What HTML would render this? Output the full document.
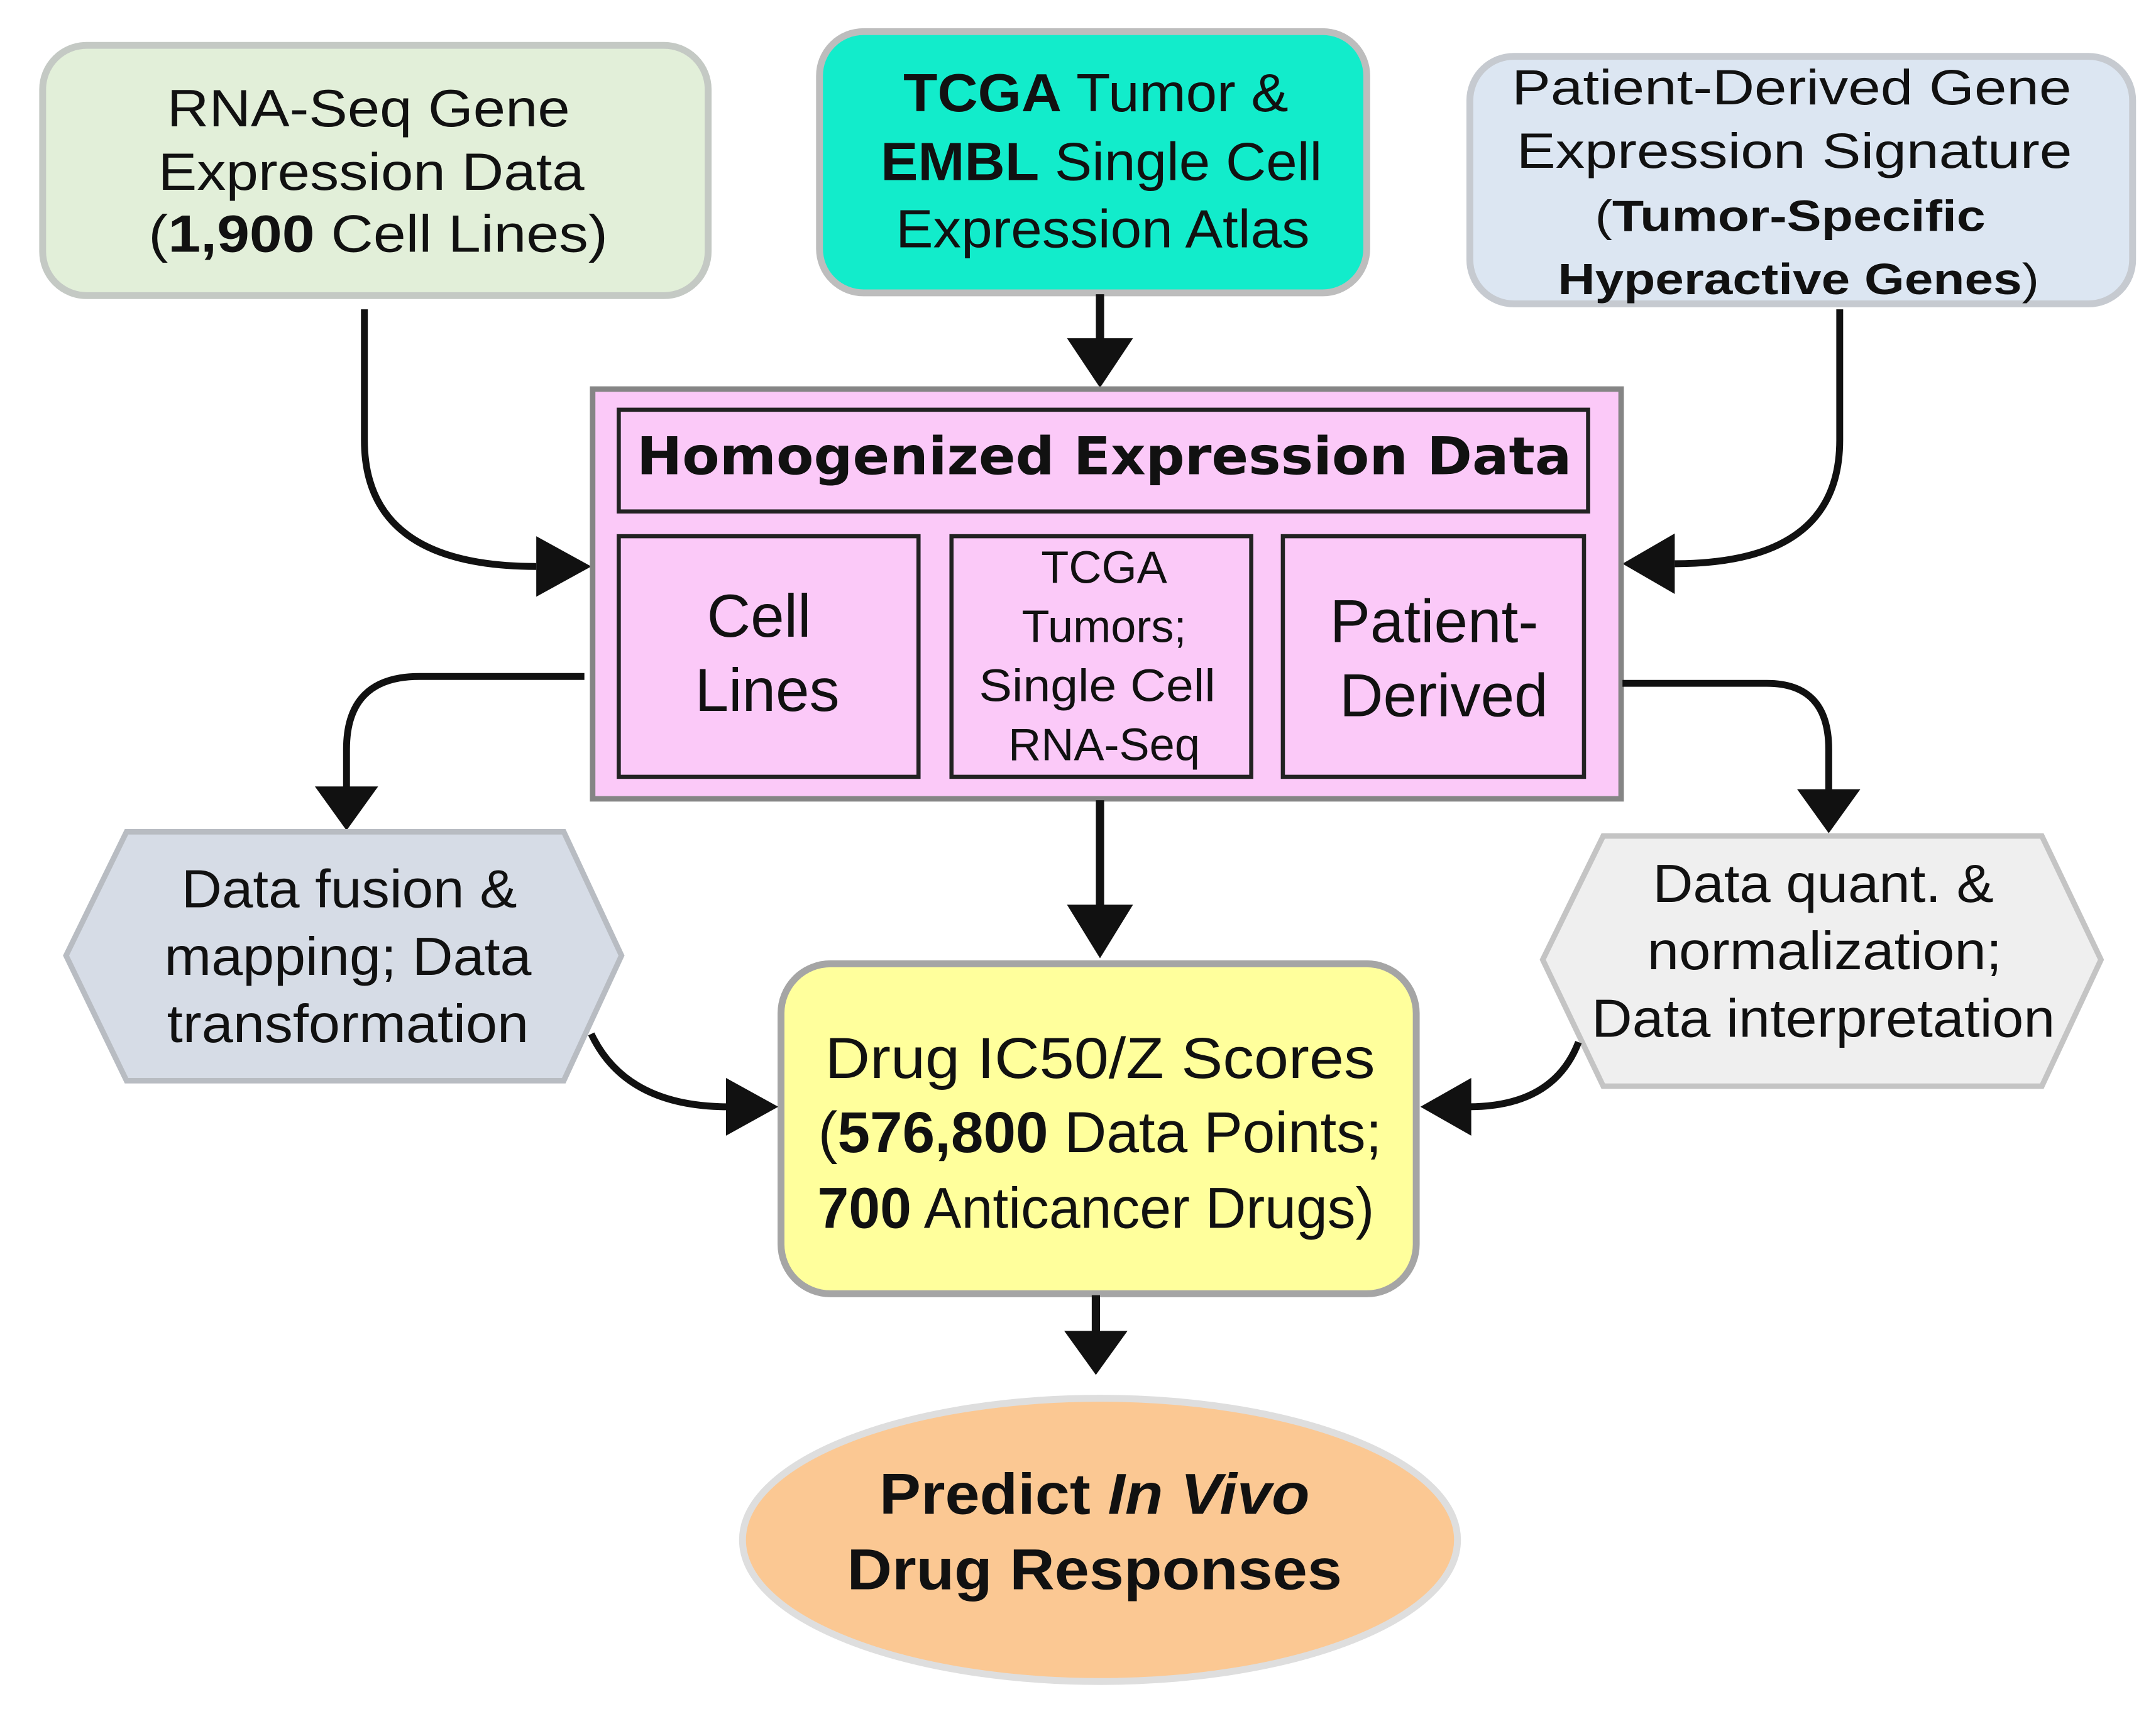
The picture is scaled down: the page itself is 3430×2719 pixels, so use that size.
<!DOCTYPE html>
<html><head><meta charset="utf-8"><style>
html,body{margin:0;padding:0;background:#fff;}
svg{display:block;}
text{font-family:"Liberation Sans",Arial,sans-serif;fill:#111;}
</style></head><body>
<svg width="3430" height="2719" viewBox="0 0 1568 1243" xmlns="http://www.w3.org/2000/svg">
<rect width="1568" height="1243" fill="#fff"/>

<!-- Top boxes -->
<rect x="31" y="33" width="484" height="182" rx="32" fill="#e2efd9" stroke="#c4c9c4" stroke-width="5"/>
<g font-size="38" text-anchor="middle" lengthAdjust="spacingAndGlyphs">
<text x="268" y="92" textLength="293" lengthAdjust="spacingAndGlyphs">RNA-Seq Gene</text>
<text x="270" y="138" textLength="310" lengthAdjust="spacingAndGlyphs">Expression Data</text>
<text x="275" y="183" textLength="334" lengthAdjust="spacingAndGlyphs">(<tspan font-weight="bold">1,900</tspan> Cell Lines)</text>
</g>

<rect x="596" y="23" width="398" height="190" rx="32" fill="#12eccb" stroke="#bdbdbd" stroke-width="5"/>
<g font-size="39" text-anchor="middle">
<text x="797" y="81" textLength="280" lengthAdjust="spacingAndGlyphs"><tspan font-weight="bold">TCGA</tspan> Tumor &amp;</text>
<text x="801" y="131" textLength="321" lengthAdjust="spacingAndGlyphs"><tspan font-weight="bold">EMBL</tspan> Single Cell</text>
<text x="802" y="180" textLength="301" lengthAdjust="spacingAndGlyphs">Expression Atlas</text>
</g>

<rect x="1069" y="41" width="482" height="180" rx="32" fill="#dce6f2" stroke="#c6cad0" stroke-width="5"/>
<g text-anchor="middle">
<text x="1303" y="76" font-size="36" textLength="407" lengthAdjust="spacingAndGlyphs">Patient-Derived Gene</text>
<text x="1305" y="122" font-size="36" textLength="404" lengthAdjust="spacingAndGlyphs">Expression Signature</text>
<text x="1302" y="168" font-size="32" textLength="284" lengthAdjust="spacingAndGlyphs">(<tspan font-weight="bold">Tumor-Specific</tspan></text>
<text x="1308" y="214" font-size="32" textLength="350" lengthAdjust="spacingAndGlyphs"><tspan font-weight="bold">Hyperactive Genes</tspan>)</text>
</g>

<!-- Arrows top -->
<line x1="800" y1="214" x2="800" y2="250" stroke="#111" stroke-width="6"/>
<path d="M800,282 L776,246 L824,246 z" fill="#111"/>
<path d="M265,225 L265,320 Q265,412 390,412" fill="none" stroke="#111" stroke-width="5"/>
<path d="M430,412 L390,390 L390,434 z" fill="#111"/>
<path d="M1338,225 L1338,320 Q1338,410 1218,410" fill="none" stroke="#111" stroke-width="5"/>
<path d="M1180,410 L1218,388 L1218,432 z" fill="#111"/>

<!-- Pink box -->
<rect x="431" y="283" width="748" height="298" fill="#fbc9f8" stroke="#858585" stroke-width="4"/>
<rect x="450" y="298" width="705" height="74" fill="#fbc9f8" stroke="#222" stroke-width="3"/>
<text x="803" y="345" font-size="38" font-weight="bold" text-anchor="middle" style="font-family:'DejaVu Sans','Liberation Sans',sans-serif" textLength="680" lengthAdjust="spacingAndGlyphs">Homogenized Expression Data</text>
<rect x="450" y="390" width="218" height="175" fill="#fbc9f8" stroke="#222" stroke-width="3"/>
<rect x="692" y="390" width="218" height="175" fill="#fbc9f8" stroke="#222" stroke-width="3"/>
<rect x="933" y="390" width="219" height="175" fill="#fbc9f8" stroke="#222" stroke-width="3"/>
<g text-anchor="middle">
<text x="552" y="463" font-size="44">Cell</text>
<text x="558" y="517" font-size="44">Lines</text>
<text x="803" y="424" font-size="33">TCGA</text>
<text x="803" y="467" font-size="33">Tumors;</text>
<text x="798" y="510" font-size="33" textLength="172" lengthAdjust="spacingAndGlyphs">Single Cell</text>
<text x="803" y="553" font-size="33">RNA-Seq</text>
<text x="1043" y="467" font-size="44">Patient-</text>
<text x="1050" y="521" font-size="44">Derived</text>
</g>

<!-- Lower side arrows -->
<path d="M425,492 L305,492 Q252,492 252,545 L252,575" fill="none" stroke="#111" stroke-width="5"/>
<path d="M252,604 L229,572 L275,572 z" fill="#111"/>
<path d="M1180,497 L1285,497 Q1330,497 1330,545 L1330,577" fill="none" stroke="#111" stroke-width="5"/>
<path d="M1330,606 L1307,574 L1353,574 z" fill="#111"/>
<line x1="800" y1="582" x2="800" y2="660" stroke="#111" stroke-width="6"/>
<path d="M800,697 L776,658 L824,658 z" fill="#111"/>

<!-- Hexagons -->
<polygon points="48,695 92,605 410,605 452,695 410,786 92,786" fill="#d6dce6" stroke="#b8bcc2" stroke-width="4"/>
<g font-size="39" text-anchor="middle">
<text x="254" y="660" textLength="244" lengthAdjust="spacingAndGlyphs">Data fusion &amp;</text>
<text x="253" y="709" textLength="267" lengthAdjust="spacingAndGlyphs">mapping; Data</text>
<text x="253" y="758" textLength="263" lengthAdjust="spacingAndGlyphs">transformation</text>
</g>
<polygon points="1122,698 1166,608 1485,608 1528,698 1485,790 1166,790" fill="#efefef" stroke="#c4c4c4" stroke-width="4"/>
<g font-size="39" text-anchor="middle">
<text x="1326" y="656" textLength="248" lengthAdjust="spacingAndGlyphs">Data quant. &amp;</text>
<text x="1327" y="705" textLength="258" lengthAdjust="spacingAndGlyphs">normalization;</text>
<text x="1326" y="754" textLength="337" lengthAdjust="spacingAndGlyphs">Data interpretation</text>
</g>

<!-- Yellow box -->
<rect x="568" y="701" width="462" height="240" rx="36" fill="#ffff9c" stroke="#a5a5a5" stroke-width="5"/>
<g font-size="42" text-anchor="middle">
<text x="800" y="784" textLength="400" lengthAdjust="spacingAndGlyphs">Drug IC50/Z Scores</text>
<text x="800" y="838" textLength="410" lengthAdjust="spacingAndGlyphs">(<tspan font-weight="bold">576,800</tspan> Data Points;</text>
<text x="797" y="893" textLength="405" lengthAdjust="spacingAndGlyphs"><tspan font-weight="bold">700</tspan> Anticancer Drugs)</text>
</g>
<path d="M430,752 Q455,805 530,805" fill="none" stroke="#111" stroke-width="5"/>
<path d="M566,805 L528,784 L528,826 z" fill="#111"/>
<path d="M1148,758 Q1130,805 1068,805" fill="none" stroke="#111" stroke-width="5"/>
<path d="M1033,805 L1070,784 L1070,826 z" fill="#111"/>

<!-- Bottom -->
<line x1="797" y1="942" x2="797" y2="970" stroke="#111" stroke-width="6"/>
<path d="M797,1000 L774,968 L820,968 z" fill="#111"/>
<ellipse cx="800" cy="1120" rx="260" ry="103" fill="#fbc893" stroke="#dedede" stroke-width="5"/>
<g font-size="42" font-weight="bold" text-anchor="middle">
<text x="796" y="1101" textLength="313" lengthAdjust="spacingAndGlyphs">Predict <tspan font-style="italic">In Vivo</tspan></text>
<text x="796" y="1156" textLength="360" lengthAdjust="spacingAndGlyphs">Drug Responses</text>
</g>
</svg>
</body></html>
